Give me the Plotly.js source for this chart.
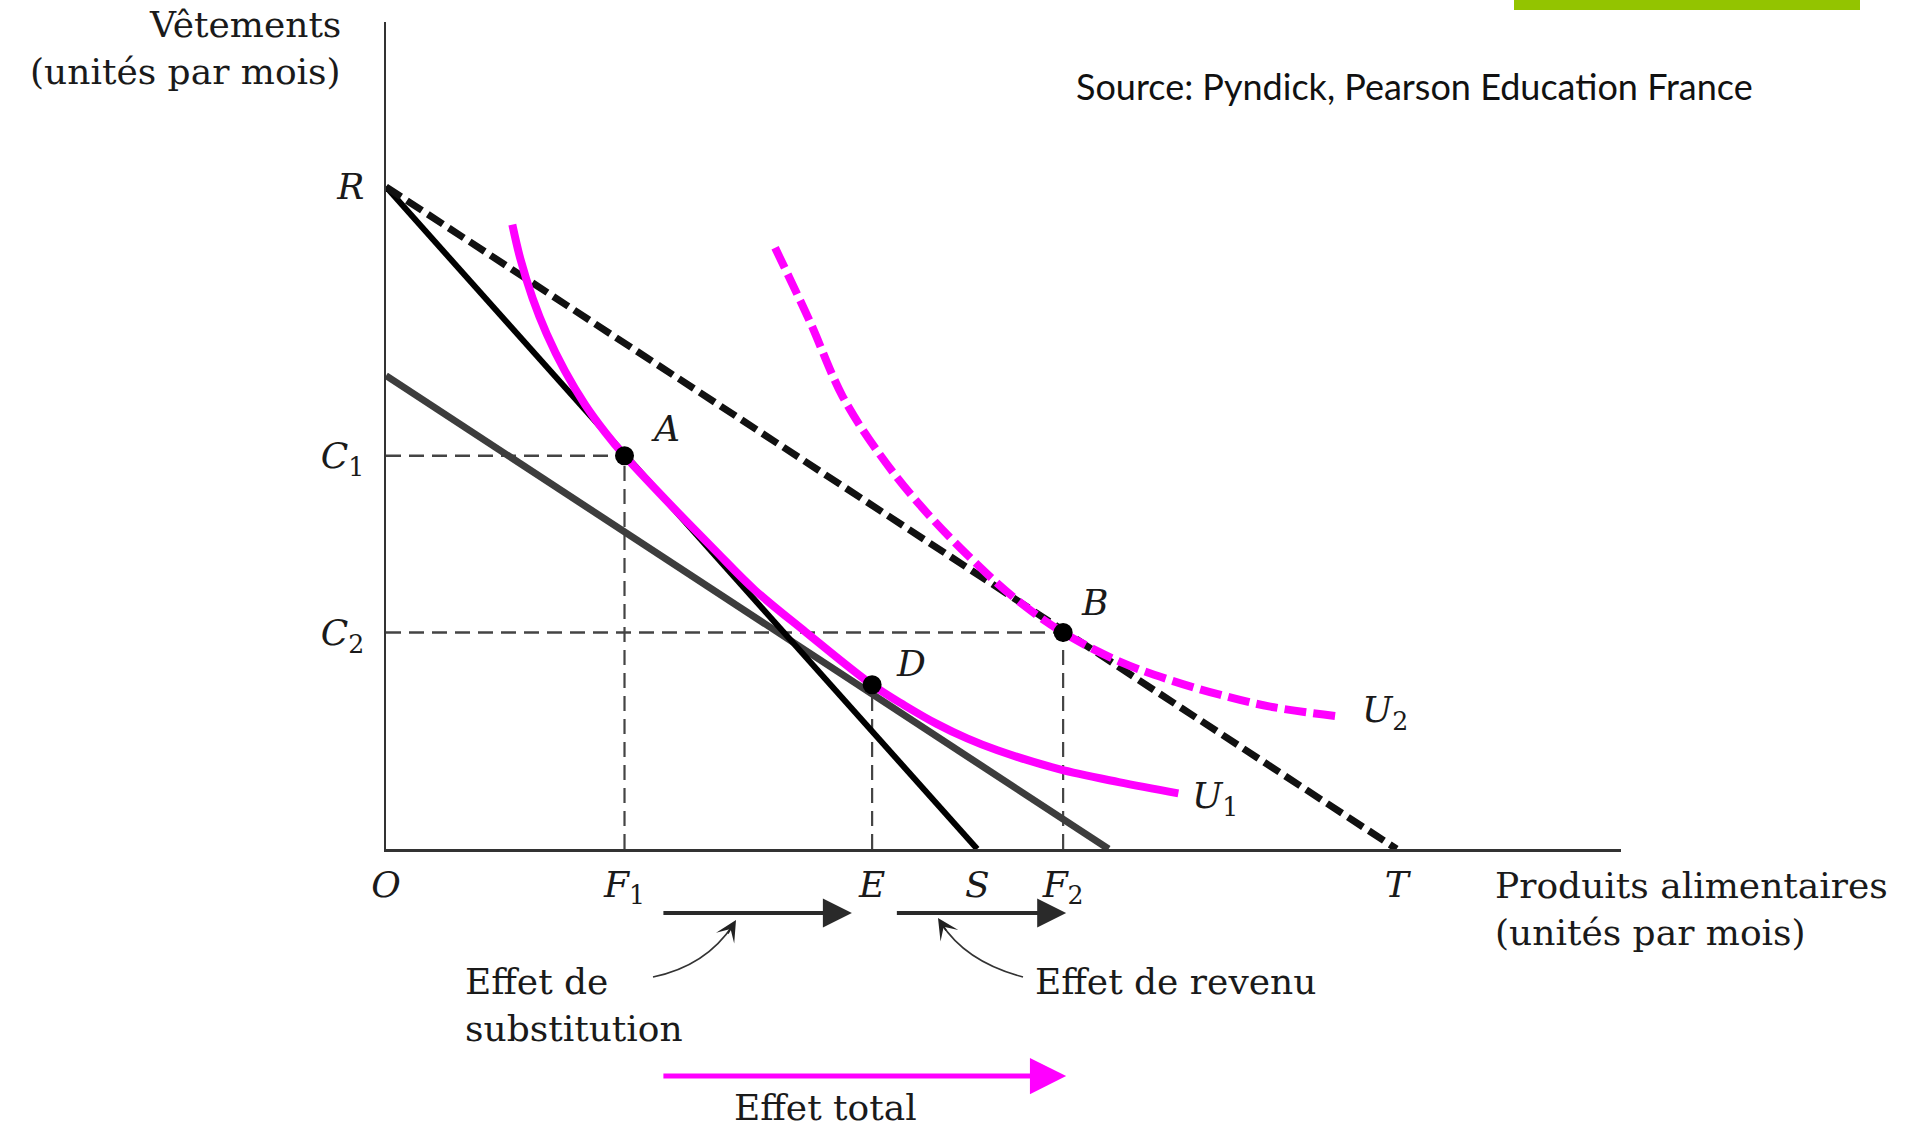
<!DOCTYPE html>
<html>
<head>
<meta charset="utf-8">
<script src="https://cdn.plot.ly/plotly-3.0.1.min.js"></script>
<style>html,body{margin:0;padding:0;background:#fff;}#chart{width:1907px;height:1129px;}</style>
</head>
<body>
<div id="chart"></div>
<script>
// ---- data (arbitrary units) ----
const xTickVals = [0, 2.36, 4.81, 5.85, 6.70, 10];
const xTickText = ['O', 'F<sub>1</sub>', 'E', 'S', 'F<sub>2</sub>', 'T'];
const yTickVals = [10, 5.94, 3.27];
const yTickText = ['R', 'C<sub>1</sub>', 'C<sub>2</sub>'];

const lineRSx = [0, 5.85];   const lineRSy = [10, 0];     // initial budget line
const lineRTx = [0, 10];     const lineRTy = [10, 0];     // new budget line (dashed)
const lineCompX = [0, 7.15]; const lineCompY = [7.15, 0]; // compensated budget line

const u1x = [1.25, 1.33, 1.45, 1.59, 1.77, 1.97, 2.17, 2.36, 2.77, 3.25, 3.65, 4.15, 4.81, 5.13, 5.45, 5.75, 6.05, 6.65, 7.25, 7.84];
const u1y = [9.43, 8.91, 8.32, 7.78, 7.22, 6.71, 6.29, 5.94, 5.27, 4.52, 3.91, 3.28, 2.48, 2.17, 1.89, 1.67, 1.49, 1.21, 1.01, 0.84];
const u2x = [3.85, 4.19, 4.52, 4.89, 5.28, 5.76, 6.22, 6.70, 7.26, 7.76, 8.25, 8.75, 9.44];
const u2y = [9.08, 7.98, 6.83, 5.95, 5.20, 4.43, 3.79, 3.27, 2.83, 2.55, 2.33, 2.15, 2.00];

const pointNames = ['A', 'B', 'D'];
const pointX = [2.36, 6.70, 4.81];
const pointY = [5.94, 3.27, 2.48];
const guideHorizontal = [true, true, false];

const xMax = 12.22, yMax = 12.49;

// ---- layout geometry ----
const W = 1907, H = 1129;
const M = {l: 386, r: 286, t: 22, b: 280};
const PW = W - M.l - M.r, PH = H - M.t - M.b;
const KX = PW / xMax, KY = PH / yMax;
const X2P = x => M.l + x * KX;             // x data -> page pixel
const px = p => (p - M.l) / PW;            // page pixel -> paper x
const py = p => (H - M.b - p) / PH;        // page pixel -> paper y

const SERIF = 'DejaVu Serif';
const FS = 36;
const MAG = '#ff00ff';

const traces = [];
// guide dashed lines
pointNames.forEach((n, i) => {
  if (guideHorizontal[i]) {
    traces.push({x: [0, pointX[i]], y: [pointY[i], pointY[i]], mode: 'lines',
      line: {color: '#444', width: 2.5, dash: '15px,8px'}, hoverinfo: 'skip'});
  }
  traces.push({x: [pointX[i], pointX[i]], y: [0, pointY[i]], mode: 'lines',
    line: {color: '#444', width: 2.2, dash: '15px,8px'}, hoverinfo: 'skip'});
});
traces.push({x: lineCompX, y: lineCompY, mode: 'lines', line: {color: '#3d3d3d', width: 7}});
traces.push({x: lineRSx, y: lineRSy, mode: 'lines', line: {color: '#000', width: 6}});
traces.push({x: lineRTx, y: lineRTy, mode: 'lines', line: {color: '#111', width: 7, dash: '18px,7px'}});
traces.push({x: u1x, y: u1y, mode: 'lines', line: {color: MAG, width: 8, shape: 'spline', smoothing: 1}});
traces.push({x: u2x, y: u2y, mode: 'lines', line: {color: MAG, width: 8, shape: 'spline', smoothing: 1, dash: '22px,7px'}});
traces.push({x: pointX, y: pointY, mode: 'markers', marker: {color: '#000', size: 19}, cliponaxis: false});

const tfont = {family: SERIF, size: FS, color: '#1a1a1a'};
const ann = [];
// point labels
const labelShift = [[41, 27], [31, 30], [39, 21]];
pointNames.forEach((n, i) => {
  ann.push({x: pointX[i], y: pointY[i], xref: 'x', yref: 'y', text: '<i>' + n + '</i>', showarrow: false,
    xshift: labelShift[i][0], yshift: labelShift[i][1], font: tfont});
});
ann.push({x: u1x[u1x.length - 1], y: u1y[u1y.length - 1], xref: 'x', yref: 'y', text: '<i>U</i><sub>1</sub>', showarrow: false,
  xanchor: 'left', xshift: 12, yshift: -5, font: tfont});
ann.push({x: u2x[u2x.length - 1], y: u2y[u2y.length - 1], xref: 'x', yref: 'y', text: '<i>U</i><sub>2</sub>', showarrow: false,
  xanchor: 'left', xshift: 20, yshift: 4, font: tfont});

// texts outside the plotting area (paper coordinates)
const P = {xref: 'paper', yref: 'paper', showarrow: false, yanchor: 'middle', font: tfont};
ann.push(Object.assign({}, P, {x: px(343), y: py(25), text: 'Vêtements', xanchor: 'right'}));
ann.push(Object.assign({}, P, {x: px(343), y: py(71), text: '(unités par mois)', xanchor: 'right'}));
ann.push(Object.assign({}, P, {x: px(1493), y: py(885), text: 'Produits alimentaires', xanchor: 'left'}));
ann.push(Object.assign({}, P, {x: px(1493), y: py(932), text: '(unités par mois)', xanchor: 'left'}));
ann.push(Object.assign({}, P, {x: px(463), y: py(1005), text: 'Effet de<br>substitution', xanchor: 'left', align: 'left'}));
ann.push(Object.assign({}, P, {x: px(1033), y: py(982), text: 'Effet de revenu', xanchor: 'left'}));
ann.push(Object.assign({}, P, {x: px(825), y: py(1107), text: 'Effet total', xanchor: 'center'}));

// effect arrows along the x axis (from F1 to E, E to F2, F1 to F2)
const F1 = xTickVals[1], E = xTickVals[2], F2 = xTickVals[4];
function hArrow(x0, x1, yPix, color, w, size) {
  const h = X2P(x1), t = X2P(x0);
  return {xref: 'paper', yref: 'paper', x: px(h), y: py(yPix), ax: t - h, ay: 0, text: '', showarrow: true,
    arrowhead: 2, arrowsize: size, arrowwidth: w, arrowcolor: color, standoff: 0};
}
ann.push(hArrow(F1 + 0.37, E - 0.2, 913, '#2a2a2a', 4, 1.45));
ann.push(hArrow(E + 0.23, F2 + 0.03, 913, '#2a2a2a', 4, 1.45));
ann.push(hArrow(F1 + 0.37, F2 + 0.03, 1076, MAG, 5, 1.45));
// heads of the curved pointers
ann.push({xref: 'paper', yref: 'paper', x: px(736), y: py(920), ax: -9, ay: 15, text: '', showarrow: true,
  arrowhead: 3, arrowsize: 2.2, arrowwidth: 1.6, arrowcolor: '#222', standoff: 0});
ann.push({xref: 'paper', yref: 'paper', x: px(938), y: py(918), ax: 9, ay: 14, text: '', showarrow: true,
  arrowhead: 3, arrowsize: 2.2, arrowwidth: 1.6, arrowcolor: '#222', standoff: 0});
// source
ann.push({xref: 'paper', yref: 'paper', x: px(1074), y: py(86),
  text: 'Source: Pyndick, Pearson Education France', showarrow: false, xanchor: 'left', yanchor: 'middle',
  font: {family: 'Lato', size: 36, color: '#111'}});

const shapes = [
  {type: 'path', xref: 'paper', yref: 'paper', path: `M ${px(653)},${py(977)} Q ${px(706)},${py(966)} ${px(733)},${py(925)}`,
    line: {color: '#333', width: 1.6}},
  {type: 'path', xref: 'paper', yref: 'paper', path: `M ${px(1023)},${py(977)} Q ${px(966)},${py(962)} ${px(941)},${py(923)}`,
    line: {color: '#333', width: 1.6}},
  {type: 'rect', xref: 'paper', yref: 'paper', x0: px(1514), x1: px(1860), y0: py(10), y1: py(0),
    fillcolor: '#93c400', line: {width: 0}}
];

const italicTick = t => t.includes('<sub>') ? '<i>' + t.replace('<sub>', '</i><sub>') : '<i>' + t + '</i>';

const layout = {
  width: W, height: H, autosize: false,
  margin: {l: M.l, r: M.r, t: M.t, b: M.b, pad: 0},
  paper_bgcolor: '#fff', plot_bgcolor: '#fff',
  showlegend: false, hovermode: false,
  xaxis: {range: [0, xMax], showgrid: false, zeroline: false, showline: true, linecolor: '#333', linewidth: 2.5,
    tickvals: xTickVals, ticktext: xTickText.map(italicTick),
    ticks: 'outside', ticklen: 2, tickcolor: 'rgba(0,0,0,0)', tickfont: tfont, fixedrange: true},
  yaxis: {range: [0, yMax], showgrid: false, zeroline: false, showline: true, linecolor: '#333', linewidth: 2.5,
    tickvals: yTickVals, ticktext: yTickText.map(italicTick),
    ticks: 'outside', ticklen: 12, tickcolor: 'rgba(0,0,0,0)', tickfont: tfont, fixedrange: true},
  annotations: ann,
  shapes: shapes
};

Plotly.newPlot('chart', traces, layout, {staticPlot: true, displayModeBar: false});
</script>
</body>
</html>
